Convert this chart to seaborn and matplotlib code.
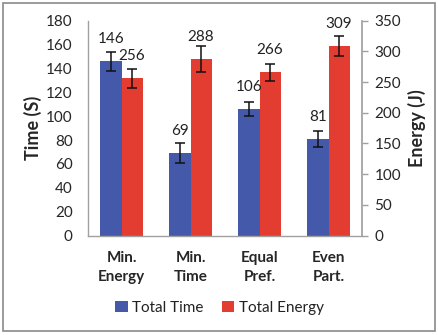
import matplotlib
matplotlib.use("Agg")
import matplotlib.pyplot as plt
from matplotlib.patches import Rectangle
import seaborn as sns
import pandas as pd

strategies = ["Min.\nEnergy", "Min.\nTime", "Equal\nPref.", "Even\nPart."]
total_time = [146, 69, 106, 81]
time_err = [8, 8.5, 6, 6.5]
total_energy = [256, 288, 266, 309]
energy_err = [15, 21, 14, 16]

time_max = 180
energy_max = 350
blue = "#4459AA"
red = "#E33D32"

sns.set_theme(style="white")
plt.rcParams["font.family"] = ["Lato", "DejaVu Sans"]
plt.rcParams["text.color"] = "#222222"

# energy is drawn on the time scale, right axis converts back
scale = time_max / energy_max
df = pd.DataFrame({
    "strategy": strategies * 2,
    "series": ["Total Time"] * 4 + ["Total Energy"] * 4,
    "value": total_time + [e * scale for e in total_energy],
    "label": total_time + total_energy,
    "err": time_err + [e * scale for e in energy_err],
})

fig = plt.figure(figsize=(4.39, 3.35), dpi=100)
fig.patches.append(Rectangle((0.007, 0.012), 0.985, 0.978, transform=fig.transFigure,
                             fill=False, edgecolor="#8a8a8a", linewidth=1.2))
ax = fig.add_axes([0.2005, 0.297, 0.6241, 0.641])

sns.barplot(data=df, x="strategy", y="value", hue="series", palette=[blue, red],
            width=0.61, gap=0, saturation=1, errorbar=None, ax=ax, linewidth=0)

for container, series in zip(ax.containers, ["Total Time", "Total Energy"]):
    sub = df[df.series == series]
    for bar, err, lab in zip(container, sub["err"], sub["label"]):
        xc = bar.get_x() + bar.get_width() / 2
        h = bar.get_height()
        ax.errorbar(xc, h, yerr=err, fmt="none", ecolor="#111111", elinewidth=1.1,
                    capsize=3.5, capthick=1.1)
        ax.annotate(str(lab), (xc, h), xytext=(0, 16), textcoords="offset points",
                    ha="center", va="center", fontsize=11)

ax.set_ylim(0, time_max)
ax.set_yticks(range(0, time_max + 1, 20))
ax.set_xlabel("")
ax.set_ylabel("Time (S)", fontsize=13, fontweight="bold", labelpad=3)
ax.tick_params(axis="y", length=0, pad=11, labelsize=11)
ax.tick_params(axis="x", length=0, pad=11, labelsize=11)
for t in ax.get_xticklabels():
    t.set_fontweight("bold")
    t.set_linespacing(1.45)
for s in ["top", "right"]:
    ax.spines[s].set_visible(False)
for s in ["left", "bottom"]:
    ax.spines[s].set_color("#a0a0a0")
    ax.spines[s].set_linewidth(1.0)

sec = ax.secondary_yaxis("right", functions=(lambda t: t / scale, lambda e: e * scale))
sec.set_yticks(range(0, energy_max + 1, 50))
sec.tick_params(axis="y", length=4, width=1.0, color="#a0a0a0", pad=5, labelsize=11,
                direction="out")
sec.spines["right"].set_color("#a0a0a0")
sec.set_ylabel("Energy (J)", fontsize=13, fontweight="bold", labelpad=5)

handles, labels = ax.get_legend_handles_labels()
ax.get_legend().remove()
fig.legend(handles, labels, loc="center", bbox_to_anchor=(0.5, 0.081), ncol=2,
           frameon=False, fontsize=11, handlelength=0.8, handleheight=0.8,
           handletextpad=0.3, columnspacing=1.2)

fig.savefig("out.png", dpi=100)
